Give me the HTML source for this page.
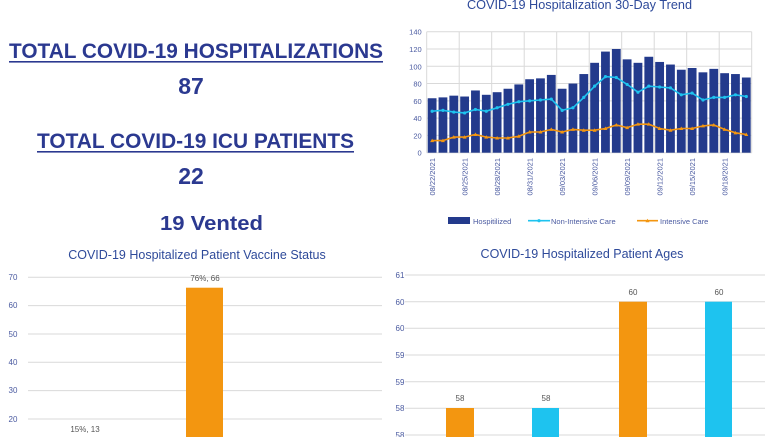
<!DOCTYPE html>
<html><head><meta charset="utf-8"><style>
html,body{margin:0;padding:0;background:#fff;width:777px;height:437px;overflow:hidden}
svg{display:block;font-family:"Liberation Sans",sans-serif}
</style></head><body>
<svg id="s" width="777" height="437" viewBox="0 0 777 437" xmlns="http://www.w3.org/2000/svg">
<g fill="#2b3990" font-weight="bold">
<text x="9" y="58" font-size="21" textLength="374" lengthAdjust="spacingAndGlyphs">TOTAL COVID-19 HOSPITALIZATIONS</text>
<rect x="9" y="61" width="374" height="1.6"/>
<text x="191" y="94" font-size="23" text-anchor="middle">87</text>
<text x="37" y="148" font-size="21" textLength="317" lengthAdjust="spacingAndGlyphs">TOTAL COVID-19 ICU PATIENTS</text>
<rect x="37" y="151" width="317" height="1.6"/>
<text x="191" y="184" font-size="23" text-anchor="middle">22</text>
<text x="160" y="230" font-size="20" textLength="103" lengthAdjust="spacingAndGlyphs">19 Vented</text>
</g>
<text x="467" y="9" font-size="12.5" fill="#2e4a9a" textLength="225" lengthAdjust="spacingAndGlyphs">COVID-19 Hospitalization 30-Day Trend</text>
<g id="top"></g>
<!-- bottom left -->
<text x="197" y="259" font-size="12.5" fill="#2e4a9a" text-anchor="middle">COVID-19 Hospitalized Patient Vaccine Status</text>
<g stroke="#d9d9d9" stroke-width="1">
<line x1="28" x2="382" y1="277.3" y2="277.3"/><line x1="28" x2="382" y1="305.6" y2="305.6"/>
<line x1="28" x2="382" y1="334" y2="334"/><line x1="28" x2="382" y1="362.3" y2="362.3"/>
<line x1="28" x2="382" y1="390.6" y2="390.6"/><line x1="28" x2="382" y1="419" y2="419"/>
</g>
<g font-size="8" fill="#4a5aa0" text-anchor="middle">
<text x="13" y="280">70</text><text x="13" y="308">60</text><text x="13" y="337">50</text>
<text x="13" y="365">40</text><text x="13" y="393">30</text><text x="13" y="422">20</text>
</g>
<rect x="186" y="287.7" width="37" height="160" fill="#f39610"/>
<g font-size="8" fill="#555" text-anchor="middle">
<text x="205" y="281">76%, 66</text><text x="85" y="432">15%, 13</text>
</g>
<!-- bottom right -->
<text x="582" y="258" font-size="12.5" fill="#2e4a9a" text-anchor="middle">COVID-19 Hospitalized Patient Ages</text>
<g stroke="#d9d9d9" stroke-width="1">
<line x1="405" x2="765" y1="275" y2="275"/><line x1="405" x2="765" y1="301.7" y2="301.7"/>
<line x1="405" x2="765" y1="328.3" y2="328.3"/><line x1="405" x2="765" y1="355" y2="355"/>
<line x1="405" x2="765" y1="381.7" y2="381.7"/><line x1="405" x2="765" y1="408.3" y2="408.3"/>
<line x1="405" x2="765" y1="435" y2="435"/>
</g>
<g font-size="8" fill="#4a5aa0" text-anchor="middle">
<text x="400" y="278">61</text><text x="400" y="305">60</text><text x="400" y="331">60</text>
<text x="400" y="358">59</text><text x="400" y="385">59</text><text x="400" y="411">58</text><text x="400" y="438">58</text>
</g>
<rect x="446" y="408" width="28" height="40" fill="#f39610"/>
<rect x="532" y="408" width="27" height="40" fill="#1ec3ef"/>
<rect x="619" y="301.7" width="28" height="140" fill="#f39610"/>
<rect x="705" y="301.7" width="27" height="140" fill="#1ec3ef"/>
<g font-size="8" fill="#555" text-anchor="middle">
<text x="460" y="401">58</text><text x="546" y="401">58</text>
<text x="633" y="295">60</text><text x="719" y="295">60</text>
</g>
</svg>
<script>
var NS="http://www.w3.org/2000/svg",g=document.getElementById("top");
function el(t,a,txt){var e=document.createElementNS(NS,t);for(var k in a)e.setAttribute(k,a[k]);if(txt)e.textContent=txt;g.appendChild(e);return e;}
var H=[63,64,66,65,72,67,70,74,79,85,86,90,74,80,91,104,117,120,108,104,111,105,102,96,98,93,97,92,91,87];
var N=[48,49,47,46,50,48,52,56,59,60,61,62,49,52,64,77,88,87,79,70,77,76,75,67,69,61,64,64,67,65];
var I=[14,14,18,18,21,18,17,17,19,24,24,27,24,27,26,26,28,32,29,33,33,28,26,28,28,31,32,27,23,21];
var x0=426.7,x1=751.7,y0=152.7,y1=31.7,sw=(x1-x0)/30;
function Y(v){return y0-(y0-y1)*v/140;}
for(var v=0;v<=140;v+=20){el("line",{x1:x0,x2:x1,y1:Y(v),y2:Y(v),stroke:"#d9d9d9"});
el("text",{x:x0-5,y:Y(v)+3,"font-size":"7.5",fill:"#4a5aa0","text-anchor":"end"},String(v));}
for(var i=0;i<=30;i+=3){var xx=x0+i*sw;el("line",{x1:xx,x2:xx,y1:y1,y2:y0,stroke:"#d9d9d9"});}
var dates=["08/22/2021","08/25/2021","08/28/2021","08/31/2021","09/03/2021","09/06/2021","09/09/2021","09/12/2021","09/15/2021","09/18/2021"];
for(var i=0;i<30;i++){var cx=x0+(i+0.5)*sw;el("rect",{x:cx-4.4,y:Y(H[i]),width:8.8,height:y0-Y(H[i]),fill:"#233a8c"});}
function line(arr,col,mk){var p="";for(var i=0;i<30;i++){var cx=x0+(i+0.5)*sw;p+=(i?"L":"M")+cx.toFixed(1)+" "+Y(arr[i]).toFixed(1);}
el("path",{d:p,fill:"none",stroke:col,"stroke-width":"1.6"});
for(var i=0;i<30;i++){var cx=x0+(i+0.5)*sw,cy=Y(arr[i]);
if(mk)el("circle",{cx:cx,cy:cy,r:1.6,fill:col});else el("path",{d:"M"+(cx-2)+" "+(cy+1.5)+"L"+cx+" "+(cy-2)+"L"+(cx+2)+" "+(cy+1.5)+"Z",fill:col});}}
line(N,"#1ec3ef",1);line(I,"#f39610",0);
for(var j=0;j<10;j++){var cx=x0+(j*3+0.5)*sw+3;el("text",{x:0,y:0,"font-size":"7.5",fill:"#4a5aa0","text-anchor":"end",transform:"translate("+cx+",158) rotate(-90)"},dates[j]);}
el("rect",{x:448,y:217,width:22,height:7,fill:"#233a8c"});
el("text",{x:473,y:224,"font-size":"7.5",fill:"#4a5aa0"},"Hospitilized");
el("line",{x1:528,x2:550,y1:220.7,y2:220.7,stroke:"#1ec3ef","stroke-width":"1.6"});
el("circle",{cx:539,cy:220.7,r:1.6,fill:"#1ec3ef"});
el("text",{x:551,y:224,"font-size":"7.5",fill:"#4a5aa0"},"Non-Intensive Care");
el("line",{x1:637,x2:658,y1:220.7,y2:220.7,stroke:"#f39610","stroke-width":"1.6"});
el("path",{d:"M645.5 222.2L647.5 218.7L649.5 222.2Z",fill:"#f39610"});
el("text",{x:660,y:224,"font-size":"7.5",fill:"#4a5aa0"},"Intensive Care");
</script>
</body></html>
